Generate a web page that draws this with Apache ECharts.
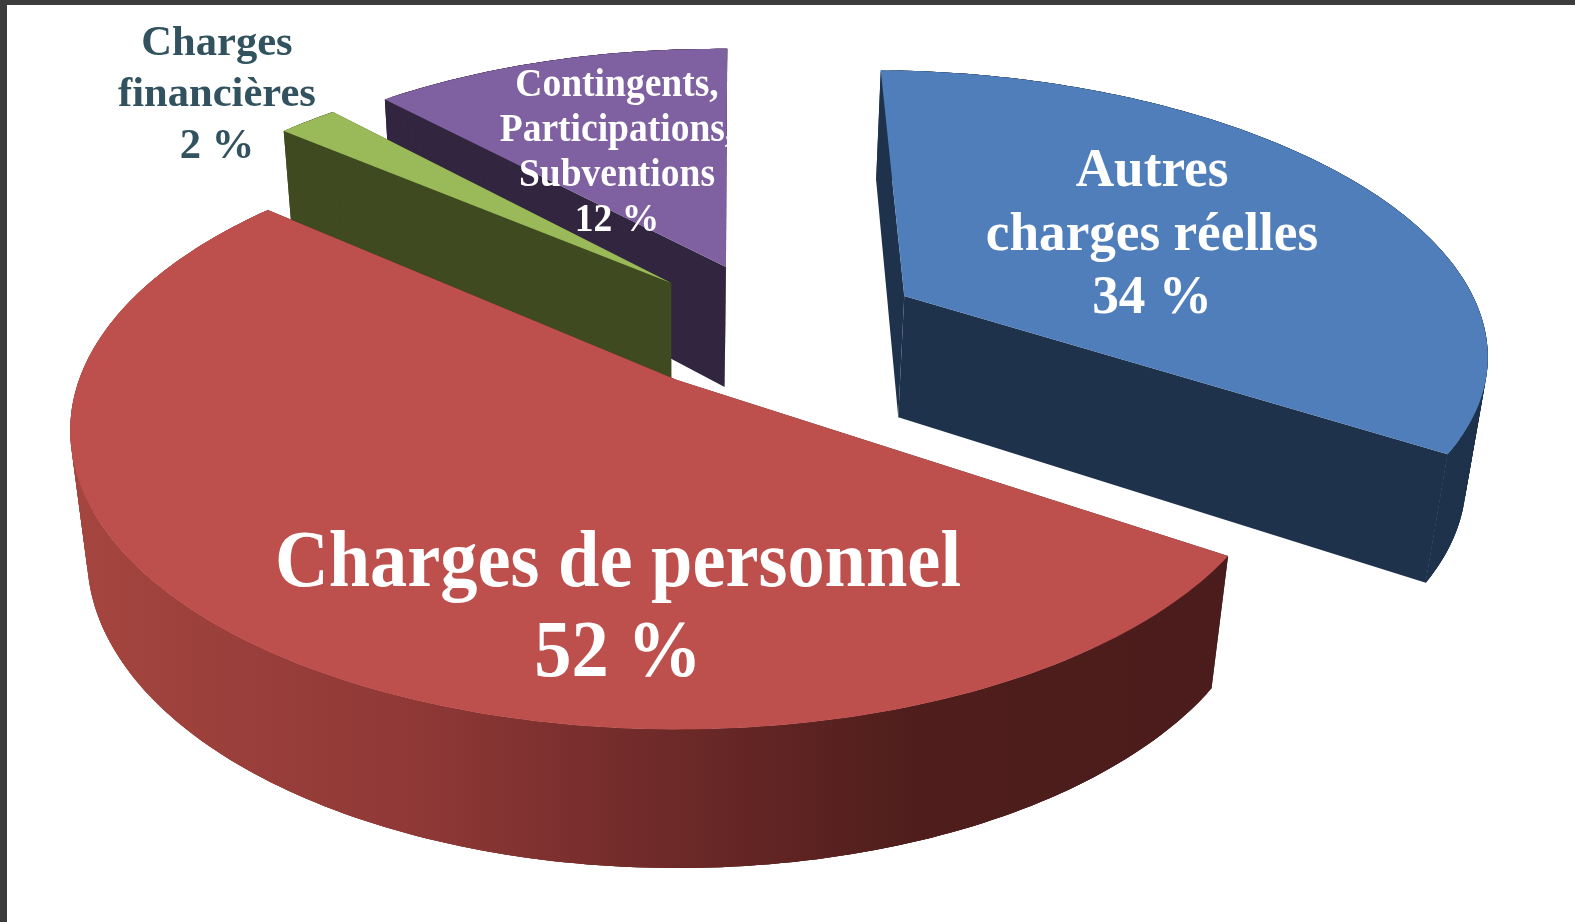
<!DOCTYPE html>
<html>
<head>
<meta charset="utf-8">
<style>
  html, body { margin: 0; padding: 0; background: #fff; }
  #chart { width: 1575px; height: 922px; }
  .bar { position: absolute; background: #3c3c3c; }
</style>
</head>
<body>
<div id="chart"></div>
<div class="bar" style="left:0;top:0;width:1575px;height:5px"></div>
<div class="bar" style="left:0;top:0;width:7px;height:922px"></div>
<script src="https://cdn.jsdelivr.net/npm/echarts@6/dist/echarts.min.js"></script>
<script>
// clockwise from the top of the pie
const names = ["Autres\ncharges réelles", "Charges de personnel", "Charges\nfinancières", "Contingents,\nParticipations,\nSubventions"];
const values = [34, 52, 2, 12];

const topColors = ["#4f7eba", "#bd4f4c", "#9aba59", "#7f60a0"];
const sideColors = ["#1e324c", "#4f1e1c", "#3f4a20", "#31253f"];
const textColors = ["#fff", "#fff", "#31525e", "#fff"];
const fontSizes = [54, 80, 43, 40];
const lineHeights = [63.5, 90, 51.5, 45];
const textStretch = [0.985, 0.93, 0.99, 0.938];
const labelCenters = [[1152, 236], [618, 610], [217, 95], [617, 153]];
const explodes = [[0.405, -0.305], [0.005, 0], [-0.005, -0.355], [0.093, -0.417]];
const paintOrder = [3, 2, 0, 1];

// fake 3d projection
const startAngle = 1;
const cx = 674, cy = 380;
const radius = 598, flat = 290, persp = 0.17;
const depth = 128.7, depthPersp = 0.028;

function project(x, y, low) {
  const k = 1 / (1 - persp * y + (low ? depthPersp : 0));
  return [cx + radius * x * k, cy + (flat * y + (low ? depth : 0)) * k];
}

function rim(i, a, low) {
  const rad = (a * Math.PI) / 180;
  return project(explodes[i][0] + Math.sin(rad), explodes[i][1] - Math.cos(rad), low);
}

const total = values.reduce((s, v) => s + v, 0);
const starts = [];
values.reduce((acc, v, i) => {
  starts[i] = acc;
  return acc + (v / total) * 360;
}, startAngle);

// colour runs left to right over the whole red wall
const redWall = new echarts.graphic.LinearGradient(80, 0, 1235, 0, [
  { offset: 0, color: "#a5453f" },
  { offset: 0.3, color: "#8e3836" },
  { offset: 0.5, color: "#6f2a29" },
  { offset: 0.72, color: "#4f1e1c" },
  { offset: 1, color: "#4a1c1b" }
], true);

function renderSlice(params, api) {
  const i = api.value(0);
  const a0 = api.value(1);
  const a1 = api.value(2);
  const arcTop = [];
  const arcLow = [];
  for (let a = a0; a < a1; a += 1) {
    arcTop.push(rim(i, a, false));
    arcLow.push(rim(i, a, true));
  }
  arcTop.push(rim(i, a1, false));
  arcLow.push(rim(i, a1, true));
  const apexTop = project(explodes[i][0], explodes[i][1], false);
  const apexLow = project(explodes[i][0], explodes[i][1], true);
  const side = sideColors[i];
  const wall = i === 1 ? redWall : side;
  const last = arcTop.length - 1;
  const children = [
    { type: "polygon", shape: { points: [apexTop, arcTop[0], arcLow[0], apexLow] }, style: { fill: side } },
    { type: "polygon", shape: { points: [apexTop, arcTop[last], arcLow[last], apexLow] }, style: { fill: side } }
  ];
  // one quad per step, a single polygon folds over itself at the silhouette.
  // each quad overlaps the next one so the joins do not show
  for (let k = 0; k < last; k++) {
    const n = Math.min(k + 3, last);
    children.push({
      type: "polygon",
      shape: { points: arcTop.slice(k, n + 1).concat(arcLow.slice(k, n + 1).reverse()) },
      style: { fill: wall }
    });
  }
  children.push({ type: "polygon", shape: { points: [apexTop].concat(arcTop) }, style: { fill: topColors[i] } });
  children.push({
    type: "text",
    z2: 10,
    x: labelCenters[i][0],
    y: labelCenters[i][1],
    scaleX: textStretch[i],
    style: {
      text: names[i] + "\n" + values[i] + " %",
      fill: textColors[i],
      font: "bold " + fontSizes[i] + "px 'Liberation Serif'",
      lineHeight: lineHeights[i],
      align: "center",
      verticalAlign: "middle"
    }
  });
  return { type: "group", children: children };
}

const rows = paintOrder.map(i => [i, starts[i], starts[i] + (values[i] / total) * 360]);

const chart = echarts.init(document.getElementById("chart"), null, { renderer: "canvas" });
chart.setOption({
  animation: false,
  backgroundColor: "#fff",
  series: [
    {
      type: "custom",
      coordinateSystem: "none",
      renderItem: renderSlice,
      silent: true,
      data: rows
    }
  ]
});
</script>
</body>
</html>
